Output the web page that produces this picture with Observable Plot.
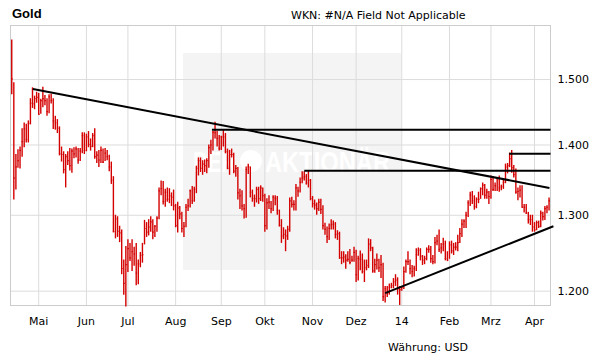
<!DOCTYPE html>
<html><head><meta charset="utf-8">
<script src="https://cdn.jsdelivr.net/npm/d3@7"></script>
<script src="https://cdn.jsdelivr.net/npm/@observablehq/plot@0.6"></script>
<style>
html,body{margin:0;padding:0;background:#fff;}
#wrap{position:relative;width:611px;height:364px;overflow:hidden;}
#wmrect{position:absolute;left:183px;top:53px;width:218px;height:217px;background:#f4f4f4;}
#wmsvg,#chart,#overlay{position:absolute;left:0;top:0;}
</style></head><body>
<div id="wrap">
  <div id="wmrect"></div>
  <svg id="wmsvg" width="611" height="364">
    <g fill="#ffffff" font-family="Liberation Sans" font-weight="bold" font-size="30">
      <text x="193" y="171.5" textLength="43" lengthAdjust="spacingAndGlyphs">DER</text>
      <circle cx="251" cy="161" r="11"></circle>
      <text x="265" y="171.5" textLength="125" lengthAdjust="spacingAndGlyphs">AKTIONÄR</text>
    </g>
  </svg>
  <div id="chart"></div>
  <svg id="overlay" width="611" height="364">
    <text x="12" y="17.5" font-family="Liberation Sans" font-weight="bold" font-size="13" fill="#000">Gold</text>
    <text x="291" y="18.5" font-family="DejaVu Sans" font-size="11" fill="#000">WKN: #N/A Field Not Applicable</text>
    <text x="388" y="351" font-family="DejaVu Sans" font-size="11" fill="#000">Währung: USD</text>
  </svg>
</div>
<script>
// Trading-day index: 0 = 12 Apr 2013 ... 259 = 10 Apr 2014
const monthStarts = [13, 36, 56, 79, 101, 122, 145, 166, 188, 211, 231, 252];
const monthLabels = ["Mai", "Jun", "Jul", "Aug", "Sep", "Okt", "Nov", "Dez", "14", "Feb", "Mrz", "Apr"];
const yTicks = [1200, 1300, 1400, 1500];
const yTickLabels = ["1.200", "1.300", "1.400", "1.500"];

const high = [
  1564,1495,1386,1393,1397,1424,1433,1431,1436,1470,1487,1474,1480,
  1478,1469,1488,1475,1470,1476,1477,1470,1443,1438,1427,1397,1390,1386,1390,1395,1394,1396,1397,1395,1395,1418,1418,
  1416,1420,1409,1417,1424,1390,1392,1397,1394,1395,1392,1385,1375,1354,1300,1298,1285,1280,1240,1258,
  1267,1262,1267,1257,1262,1240,1250,1262,1293,1290,1294,1298,1294,1286,1298,1338,1348,1347,1336,1338,1337,1331,1335,
  1315,1318,1312,1304,1290,1315,1322,1335,1340,1339,1369,1381,1381,1377,1378,1380,1400,1407,1420,1434,1420,1414,
  1413,1422,1417,1394,1392,1394,1388,1370,1367,1336,1334,1315,1368,1372,1368,1335,1328,1339,1339,1341,1338,
  1329,1323,1327,1319,1327,1327,1326,1307,1294,1283,1280,1285,1324,1325,1320,1343,1339,1352,1361,1361,1357,1362,1350,
  1326,1321,1317,1322,1322,1313,1289,1284,1288,1294,1292,1290,1279,1277,1251,1251,1247,1251,1254,1245,1257,
  1253,1245,1252,1248,1240,1240,1268,1267,1257,1241,1248,1241,1246,1236,1206,1206,1209,1210,1216,1221,1217,1206,
  1206,1231,1240,1251,1240,1233,1232,1255,1256,1255,1246,1245,1256,1259,1258,1246,1270,1273,1280,1262,1269,1265,1251,
  1264,1265,1262,1263,1273,1282,1294,1294,1304,1320,1332,1333,1327,1324,1332,1338,1345,1343,1336,1333,
  1355,1354,1345,1352,1355,1342,1350,1372,1373,1388,1392,1370,1365,1338,1341,1341,1315,1315,1304,1300,1300,
  1290,1292,1292,1306,1304,1312,1313,1324
];
const low = [
  1476,1321,1335,1366,1365,1382,1396,1403,1403,1430,1455,1453,1463,
  1445,1446,1456,1459,1443,1447,1462,1423,1422,1417,1384,1375,1358,1338,1370,1362,1359,1380,1381,1372,1376,1387,1386,
  1390,1396,1391,1396,1379,1373,1367,1373,1373,1376,1377,1361,1343,1276,1268,1270,1263,1221,1195,1180,
  1224,1238,1225,1232,1207,1208,1230,1236,1260,1270,1272,1277,1267,1270,1277,1294,1327,1314,1311,1318,1316,1312,1306,
  1283,1276,1294,1276,1270,1283,1305,1310,1315,1318,1330,1355,1360,1356,1360,1358,1366,1386,1391,1409,1397,1391,
  1392,1397,1387,1364,1356,1381,1358,1353,1321,1308,1306,1295,1296,1357,1324,1318,1311,1317,1315,1319,1318,
  1277,1280,1308,1302,1305,1313,1300,1284,1262,1267,1251,1266,1277,1310,1306,1306,1325,1331,1344,1348,1342,1338,1320,
  1310,1307,1300,1305,1301,1280,1273,1262,1266,1280,1280,1268,1266,1241,1234,1236,1228,1237,1234,1237,1237,
  1211,1213,1226,1222,1211,1226,1229,1251,1223,1223,1227,1224,1216,1187,1185,1192,1195,1203,1203,1206,1195,1182,
  1200,1202,1223,1233,1221,1217,1218,1225,1245,1239,1233,1234,1239,1249,1236,1234,1235,1259,1250,1248,1251,1239,1238,
  1241,1248,1246,1252,1251,1262,1270,1282,1282,1297,1312,1315,1307,1309,1316,1322,1327,1322,1322,1315,
  1322,1333,1333,1333,1332,1334,1336,1344,1358,1367,1359,1352,1329,1320,1324,1310,1303,1301,1288,1286,1277,
  1277,1279,1282,1283,1292,1293,1302,1306
];
const close = [
  1501,1352,1368,1377,1392,1405,1424,1408,1432,1463,1462,1470,1472,
  1446,1467,1470,1467,1450,1473,1467,1436,1433,1425,1387,1386,1364,1383,1377,1370,1391,1387,1394,1378,1391,1414,1392,
  1412,1401,1398,1414,1383,1385,1378,1392,1375,1388,1383,1368,1349,1278,1295,1278,1276,1229,1210,1234,
  1255,1243,1251,1248,1223,1235,1246,1247,1282,1277,1284,1291,1277,1285,1296,1334,1337,1319,1332,1322,1327,1325,1313,
  1286,1310,1302,1282,1285,1311,1313,1334,1320,1336,1366,1377,1366,1372,1370,1377,1396,1400,1419,1418,1410,1395,
  1412,1412,1390,1366,1386,1386,1362,1366,1331,1327,1313,1309,1364,1368,1332,1323,1323,1336,1323,1338,1327,
  1286,1317,1318,1309,1325,1323,1307,1286,1272,1274,1272,1281,1320,1315,1315,1338,1334,1346,1352,1354,1345,1349,1323,
  1316,1314,1309,1318,1308,1286,1281,1271,1282,1287,1288,1274,1275,1243,1243,1244,1240,1241,1237,1240,1250,
  1221,1242,1241,1225,1230,1233,1261,1256,1226,1234,1240,1230,1234,1193,1203,1197,1205,1207,1212,1214,1203,1202,
  1205,1225,1238,1238,1229,1225,1229,1247,1253,1245,1240,1242,1254,1254,1242,1238,1263,1265,1254,1256,1261,1242,1240,
  1260,1252,1257,1257,1263,1275,1288,1292,1300,1317,1328,1320,1312,1322,1322,1337,1342,1328,1332,1326,
  1350,1336,1341,1351,1338,1340,1346,1368,1370,1380,1367,1357,1332,1333,1335,1311,1311,1303,1294,1294,1284,
  1280,1290,1285,1303,1298,1309,1311,1320
];

// Drawn trend / resistance lines (start day, start price, end day, end price)
const trendX1 = [10.2, 96.5, 141, 239.8, 180];
const trendY1 = [1485, 1422.5, 1362.4, 1387, 1197.5];
const trendX2 = [259.2, 259.7, 259.7, 259.7, 261.1];
const trendY2 = [1338, 1422.5, 1362.4, 1387, 1285];

if (high.length !== low.length || high.length !== close.length) {
  throw new Error("length mismatch " + high.length + " " + low.length + " " + close.length);
}

const bars = high.map((h, i) => ({i, high: h, low: low[i], close: close[i]}));
const trends = trendX1.map((x, k) => ({x1: x, y1: trendY1[k], x2: trendX2[k], y2: trendY2[k]}));
const red = "#d40000";

const chart = Plot.plot({
  width: 611,
  height: 364,
  marginLeft: 10,
  marginRight: 61,
  marginTop: 25,
  marginBottom: 59,
  x: {domain: [-0.6, 259.7]},
  y: {type: "log", domain: [1182, 1588]},
  style: {background: "transparent", fontFamily: "DejaVu Sans", fontSize: "11px", color: "#000", overflow: "visible"},
  marks: [
    Plot.gridX(monthStarts, {stroke: "#dcdcdc", strokeOpacity: 1}),
    Plot.gridY(yTicks, {stroke: "#dcdcdc", strokeOpacity: 1}),
    Plot.frame({stroke: "#cccccc"}),
    Plot.axisX(monthStarts, {tickSize: 0, tickPadding: 12, tickFormat: d => monthLabels[monthStarts.indexOf(d)], label: null}),
    Plot.axisY(yTicks, {anchor: "right", tickSize: 0, tickPadding: 7, tickFormat: d => yTickLabels[yTicks.indexOf(d)], label: null}),
    Plot.ruleX(bars, {x: "i", y1: "low", y2: "high", stroke: red, strokeWidth: 1.4}),
    Plot.ruleY(bars, {x1: "i", x2: d => d.i + 0.7, y: "close", stroke: red, strokeWidth: 1.2}),
    Plot.link(trends, {x1: "x1", y1: "y1", x2: "x2", y2: "y2", stroke: "#000", strokeWidth: 2})
  ]
});
document.getElementById("chart").appendChild(chart);
</script>
</body></html>
